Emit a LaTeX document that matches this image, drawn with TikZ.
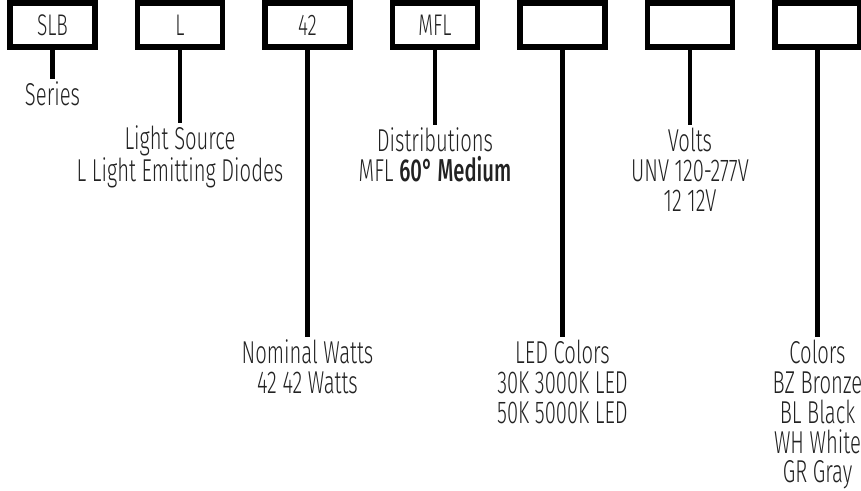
\documentclass[tikz,border=0pt]{standalone}
\usepackage{fontspec}
\setmainfont{Fira Sans}[UprightFont=* Light, BoldFont=* Medium, FakeStretch=0.64]
\usetikzlibrary{positioning}
\definecolor{codeink}{HTML}{000000}
\definecolor{codetext}{HTML}{222222}
\tikzset{
  bx/.style={draw=codeink, line width=3.4pt, minimum width=1.7cm, minimum height=0.88cm, inner sep=0pt, font=\fontsize{17}{17}\selectfont, text=codetext},
  lbl/.style={anchor=north, align=center, inner sep=1.5pt, font=\fontsize{18}{17}\selectfont, text=codetext},
  ln/.style={line width=2.3pt, draw=codeink},
}
\begin{document}
\begin{tikzpicture}
    \useasboundingbox (0,0) rectangle (17.22,9.8);
    % code boxes
    \node[bx] (c1) at (1.05,9.3) {SLB};
    \node[bx] (c2) at (3.60,9.3) {L};
    \node[bx] (c3) at (6.15,9.3) {42};
    \node[bx] (c4) at (8.70,9.3) {MFL};
    \node[bx] (c5) at (11.25,9.3) {};
    \node[bx] (c6) at (13.80,9.3) {};
    \node[bx] (c7) at (16.35,9.3) {};
    % option labels
    \node[lbl] (t1) at (1.05,8.22) {Series};
    \node[lbl] (t2) at (3.60,7.34) {Light Source\\L Light Emitting Diodes};
    \node[lbl] (t3) at (6.15,3.06) {Nominal Watts\\42 42 Watts};
    \node[lbl] (t4) at (8.70,7.30) {Distributions\\MFL \textbf{60° Medium}};
    \node[lbl] (t5) at (11.25,3.06) {LED Colors\\30K 3000K LED\\50K 5000K LED};
    \node[lbl] (t6) at (13.80,7.30) {Volts\\UNV 120-277V\\12 12V};
    \node[lbl] (t7) at (16.35,3.06) {Colors\\BZ Bronze\\BL Black\\WH White\\GR Gray};
    \draw[ln] (c1) -- (t1); \draw[ln] (c2) -- (t2); \draw[ln] (c3) -- (t3);
    \draw[ln] (c4) -- (t4); \draw[ln] (c5) -- (t5); \draw[ln] (c6) -- (t6);
    \draw[ln] (c7) -- (t7);
  \end{tikzpicture}
\end{document}
